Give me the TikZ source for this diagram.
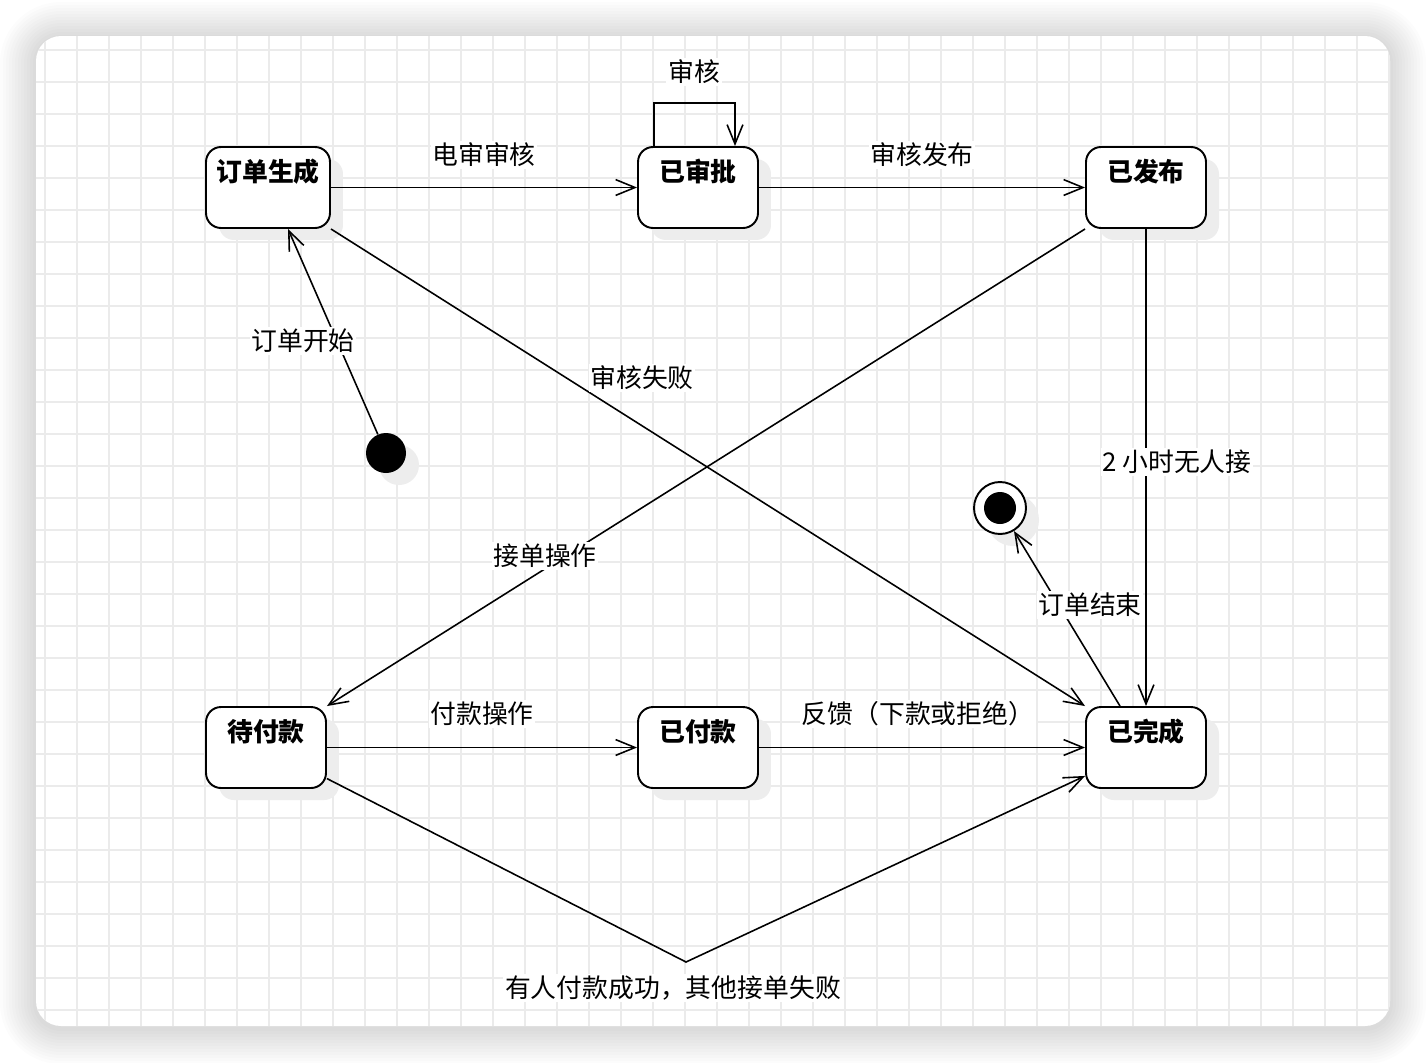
\documentclass[tikz,border=0pt]{standalone}
\usepackage{fontspec}
\newfontfamily\cjk{Noto Sans CJK SC}
\usetikzlibrary{arrows.meta,calc,shadows}

\tikzset{
  statebox/.style={
    draw=black, fill=white, rounded corners=0.3cm, line width=1.1pt,
    minimum width=2.4cm, minimum height=1.62cm, inner sep=0pt,
    text height=0.69cm, text depth=0.93cm,
    font=\cjk\fontsize{14.7pt}{17pt}\selectfont\bfseries,
    drop shadow={shadow xshift=0.26cm, shadow yshift=-0.24cm, fill=black!7, opacity=1}
  },
  initstate/.style={
    circle, fill=black, minimum size=0.8cm, inner sep=0pt,
    drop shadow={shadow xshift=0.26cm, shadow yshift=-0.24cm, fill=black!7, opacity=1}
  },
  finalstate/.style={
    circle, draw=black, fill=white, line width=1.1pt, minimum size=1.04cm, inner sep=0pt,
    path picture={\fill[black] (path picture bounding box.center) circle (0.32cm);},
    drop shadow={shadow xshift=0.26cm, shadow yshift=-0.24cm, fill=black!7, opacity=1}
  },
  trans/.style={line width=0.9pt, -{Straight Barb[length=11pt,width=9pt]}},
  lbl/.style={fill=white, inner sep=1pt, font=\cjk\fontsize{14.7pt}{17pt}\selectfont},
  gridline/.style={black!8, line width=0.7pt},
}

\begin{document}
\begin{tikzpicture}[x=0.02cm, y=-0.02cm]
\useasboundingbox (0,0) rectangle (1426,1062);

%% card with soft shadow
\foreach \i in {1,...,12}{
  \pgfmathsetmacro\d{3*\i}
  \pgfmathsetlengthmacro\rr{(25+3*\i)*0.02cm}
  \fill[black, opacity=0.012, rounded corners=\rr] (36-\d,38-\d) rectangle (1390+\d,1028+\d);
}
\fill[white, rounded corners=0.5cm] (36,36) rectangle (1390,1026);

%% grid
\begin{scope}
  \clip[rounded corners=0.5cm] (36,36) rectangle (1390,1026);
  \foreach \x in {45,77,...,1390} \draw[gridline] (\x,36) -- (\x,1026);
  \foreach \y in {50,82,...,1026} \draw[gridline] (36,\y) -- (1390,\y);
\end{scope}

%% states
\node[statebox, minimum width=2.48cm] (gen) at (268,187.5) {订单生成};
\node[statebox] (shenpi)   at (698,187.5)  {已审批};
\node[statebox] (fabu)     at (1146,187.5) {已发布};
\node[statebox] (daifu)    at (266,747.5)  {待付款};
\node[statebox] (yifu)     at (698,747.5)  {已付款};
\node[statebox] (wancheng) at (1146,747.5) {已完成};

\node[initstate]  (init)  at (386,453)  {};
\node[finalstate] (final) at (1000,508) {};

\coordinate (bend) at (686,962);

%% transitions
\draw[trans] (init) -- ($(gen.south)+(20,0)$);
\draw[trans] (gen.east) -- (shenpi.west);
\draw[trans] ($(shenpi.north)+(-44,0)$) -- ++(0,-43) -| ($(shenpi.north)+(37,0)$);
\draw[trans] (shenpi.east) -- (fabu.west);
\draw[trans] (gen.south east) -- (wancheng.north west);
\draw[trans] (fabu.south west) -- (daifu.north east);
\draw[trans] (fabu.south) -- (wancheng.north);
\draw[trans] ($(wancheng.north)+(-26,0)$) -- (final);
\draw[trans] (daifu.east) -- (yifu.west);
\draw[trans] (yifu.east) -- (wancheng.west);
\draw[trans] (daifu.-27) -- (bend) -- (wancheng.205);

%% labels
\node[lbl] (l-start)  at (303,341)  {订单开始};
\node[lbl] (l-dian)   at (484,155)  {电审审核};
\node[lbl] (l-self)   at (694,72)   {审核};
\node[lbl] (l-pub)    at (922,155)  {审核发布};
\node[lbl] (l-fail)   at (642,378)  {审核失败};
\node[lbl] (l-take)   at (545,556)  {接单操作};
\node[lbl] (l-2h)     at (1177,462) {2 小时无人接};
\node[lbl] (l-end)    at (1090,605) {订单结束};
\node[lbl] (l-pay)    at (482,714)  {付款操作};
\node[lbl] (l-fb)     at (918,714)  {反馈（下款或拒绝）};
\node[lbl] (l-ok)     at (673,988)  {有人付款成功，其他接单失败};

\end{tikzpicture}
\end{document}
